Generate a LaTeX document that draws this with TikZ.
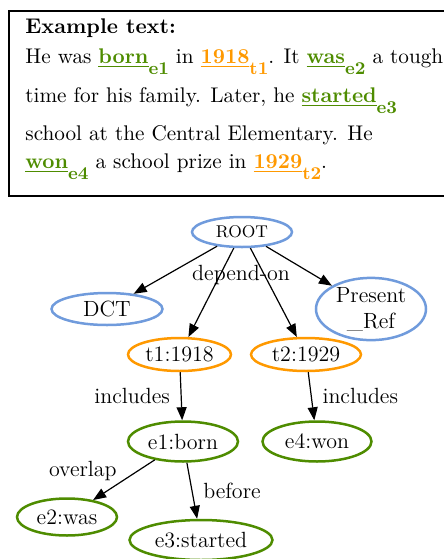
\documentclass[tikz,border=0pt]{standalone}
\usetikzlibrary{arrows.meta, shapes.geometric}
\usepackage{xcolor}

\definecolor{refblue}{RGB}{112,155,220}
\definecolor{timeorange}{RGB}{255,153,0}
\definecolor{eventgreen}{RGB}{78,140,0}

% tagged words in the example text
\newcommand{\evtag}[2]{\textcolor{eventgreen}{\underline{\textbf{#1}}\raisebox{-5.5pt}{\fontsize{9}{11}\selectfont\textbf{#2}}}}
\newcommand{\tmtag}[2]{\textcolor{timeorange}{\underline{\textbf{#1}}\raisebox{-5.5pt}{\fontsize{9}{11}\selectfont\textbf{#2}}}}

\begin{document}
\begin{tikzpicture}[x=0.5pt, y=-0.5pt, font=\fontsize{11}{13}\selectfont,
  arr/.style={-{Triangle[length=6.5pt, width=5pt]}, line width=0.6pt},
  txt/.style={anchor=base west, inner sep=0pt, font=\fontsize{10.6}{13}\selectfont},
  refnode/.style={ellipse, draw=refblue, line width=1.25pt, inner sep=0pt},
  timenode/.style={ellipse, draw=timeorange, line width=1.25pt, inner sep=0pt},
  eventnode/.style={ellipse, draw=eventgreen, line width=1.25pt, inner sep=0pt}]

  \useasboundingbox (0,0) rectangle (444,559);

  % ---- Example text ----
  \draw[line width=0.6pt] (9,11) rectangle (450,196);
  \node[txt] (title) at (25,33) {\textbf{Example text:}};
  \node[txt] (line1) at (25,63) {He was \evtag{born}{e1} in \tmtag{1918}{t1}. It \evtag{was}{e2} a tough};
  \node[txt] (line2) at (25,102) {time for his family. Later, he \evtag{started}{e3}};
  \node[txt] (line3) at (25,140) {school at the Central Elementary. He};
  \node[txt] (line4) at (25,168) {\evtag{won}{e4} a school prize in \tmtag{1929}{t2}.};

  % ---- Graph ----
  \node[refnode, minimum width=50pt, minimum height=15pt, font=\fontsize{8.5}{10}\selectfont] (root) at (242,232) {ROOT};
  \node[refnode, minimum width=55.5pt, minimum height=16pt] (dct) at (107,309) {DCT};
  \node[refnode, minimum width=55pt, minimum height=30pt, align=center] (present) at (371,309) {Present\\\_Ref};

  \node[timenode, minimum width=51.5pt, minimum height=16.5pt] (t1) at (179.5,354.5) {t1:1918};
  \node[timenode, minimum width=55pt, minimum height=16.5pt] (t2) at (306,354.5) {t2:1929};

  \node[eventnode, minimum width=55pt, minimum height=20pt] (e1) at (183,441.5) {e1:born};
  \node[eventnode, minimum width=54.5pt, minimum height=20pt] (e4) at (317,441.5) {e4:won};
  \node[eventnode, minimum width=50pt, minimum height=18.5pt] (e2) at (67,517) {e2:was};
  \node[eventnode, minimum width=71.5pt, minimum height=20pt] (e3) at (201,540) {e3:started};

  \node (dependon) at (241,275) {depend-on};

  \draw[arr] (root) -- (dct);
  \draw[arr] (root) -- (t1);
  \draw[arr] (root) -- (t2);
  \draw[arr] (root) -- (present);

  \draw[arr] (t1) -- (e1) node[midway, left=2pt] {includes};
  \draw[arr] (t2) -- (e4) node[midway, right=2pt] {includes};

  \draw[arr] (e1) -- (e2) node[midway, anchor=east, yshift=4.5pt] {overlap};
  \draw[arr] (e1) -- (e3) node[midway, right=2pt] {before};

\end{tikzpicture}
\end{document}
